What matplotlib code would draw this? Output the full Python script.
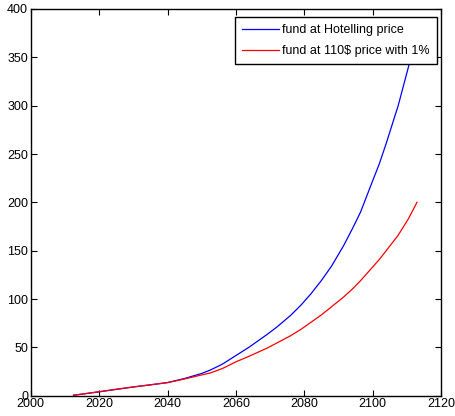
import matplotlib
matplotlib.use("Agg")
import matplotlib.pyplot as plt

plt.rcParams['font.family'] = ['Liberation Sans', 'DejaVu Sans']

years = [2012.5, 2015, 2020, 2025, 2030, 2035, 2040, 2045, 2050, 2052.5, 2056,
         2060, 2064, 2069, 2072, 2076, 2079, 2082, 2085, 2088, 2091.5, 2094,
         2096.5, 2100, 2102, 2104, 2107.5, 2110.5, 2113]
fund_hotelling = [0.5, 1.6, 4, 6.5, 9, 11.2, 13.6, 17.8, 23, 26.5, 32.5,
                  41.5, 50.5, 63, 71, 83, 93.5, 105.5, 119, 134, 155, 172,
                  190, 222, 240, 261, 300, 340, 378]
fund_110 = [0.5, 1.7, 4.2, 6.7, 9.1, 11.3, 13.5, 17.3, 21.5, 23.5, 28,
            35, 41, 49, 54.5, 62, 68.5, 76, 83.5, 92, 102, 110,
            119, 133, 141, 150, 166, 183, 200]

xticks = [2000, 2020, 2040, 2060, 2080, 2100, 2120]
yticks = [0, 50, 100, 150, 200, 250, 300, 350, 400]

fig = plt.figure(figsize=(4.55, 4.16), dpi=100)
ax = fig.add_axes([0.0677, 0.0488, 0.9013, 0.9296])

ax.plot(years, fund_hotelling, color=(0, 0, 1), lw=0.9, label='fund at Hotelling price')
ax.plot(years, fund_110, color=(1, 0, 0), lw=0.9, label='fund at 110$ price with 1%')

ax.set_xlim(2000, 2120)
ax.set_ylim(0, 400)
ax.set_xticks(xticks)
ax.set_yticks(yticks)
ax.tick_params(direction='in', length=4, width=0.8, top=True, right=True,
               labelsize=9, pad=2, colors='black')
for s in ax.spines.values():
    s.set_linewidth(1.0)

leg = ax.legend(loc='upper right', bbox_to_anchor=(0.9895, 0.9785), fontsize=9,
                handlelength=2.95, fancybox=False, framealpha=1, edgecolor='black',
                borderpad=0.55, labelspacing=0.7, handletextpad=0.27,
                borderaxespad=0)
leg.get_frame().set_linewidth(1.0)

fig.savefig('out.png', dpi=100)
